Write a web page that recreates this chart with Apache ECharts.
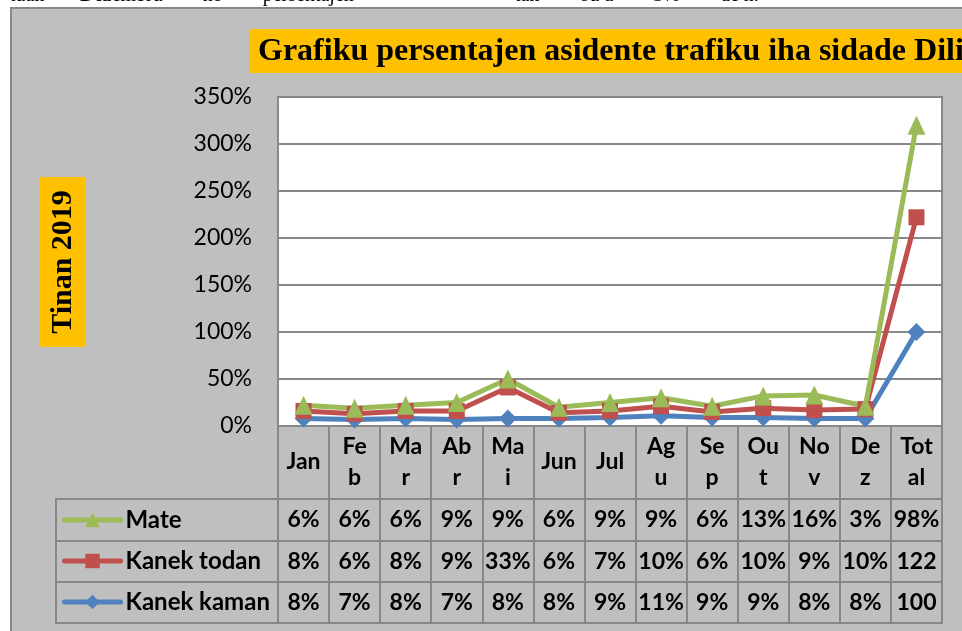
<!DOCTYPE html>
<html>
<head>
<meta charset="utf-8">
<script src="https://cdn.jsdelivr.net/npm/echarts@6/dist/echarts.min.js"></script>
<style>
  html, body { margin: 0; padding: 0; background: #fff; }
  #chart_container { width: 962px; height: 631px; }
</style>
</head>
<body>
<div id="chart_container"></div>
<script>
// months as they wrap in the excel data table
var months = ['Jan', 'Fe\nb', 'Ma\nr', 'Ab\nr', 'Ma\ni', 'Jun', 'Jul', 'Ag\nu', 'Se\np', 'Ou\nt', 'No\nv', 'De\nz', 'Tot\nal'];
var yTicks = [0, 50, 100, 150, 200, 250, 300, 350];

// percent values
var mate        = [6, 6, 6, 9, 9, 6, 9, 9, 6, 13, 16, 3, 98];
var kanekTodan  = [8, 6, 8, 9, 33, 6, 7, 10, 6, 10, 9, 10, 122];
var kanekKaman  = [8, 7, 8, 7, 8, 8, 9, 11, 9, 9, 8, 8, 100];

var BLUE = '#4F81BD', RED = '#C0504D', GREEN = '#9BBB59';
var GRID_GREY = '#888888';
var LABEL_FONT = 'Lato';

var dom = document.getElementById('chart_container');
var myChart = echarts.init(dom, null, {renderer: 'canvas'});

// the excel table cuts 3 digit values, so "122%" shows as "122"
function cellText(v) {
    v = Number(v);
    return v >= 100 ? String(v) : v + '%';
}

function tableRow(values, offset) {
    return {
        type: 'category',
        gridIndex: 0,
        position: 'bottom',
        offset: offset,
        data: values,
        axisLine: {show: true, lineStyle: {color: GRID_GREY, width: 2}},
        axisTick: {show: false},
        axisLabel: {
            interval: 0,
            margin: 21,
            verticalAlign: 'middle',
            color: '#000',
            fontFamily: LABEL_FONT,
            fontWeight: 'bold',
            fontSize: 23,
            formatter: cellText
        }
    };
}

var option = {
    animation: false,
    backgroundColor: '#fff',
    graphic: [
        // cut off line of document text above the chart
        {type: 'text', left: 10, top: -14, silent: true,
         style: {text: 'tuan       Dezembru        no        persentajen', font: '20px "Liberation Serif"', fill: '#000'}},
        {type: 'text', left: 515, top: -14, silent: true,
         style: {text: 'tan        ou a        3%        de n.', font: '20px "Liberation Serif"', fill: '#000'}},
        // chart area
        {type: 'rect', z: -10, silent: true,
         shape: {x: 11, y: 8, width: 1000, height: 700},
         style: {fill: '#BFBFBF', stroke: GRID_GREY, lineWidth: 2}},
        // title
        {type: 'rect', silent: true,
         shape: {x: 249, y: 29, width: 720, height: 44},
         style: {fill: '#FFC000'}},
        {type: 'text', x: 258, y: 52, silent: true,
         style: {text: 'Grafiku persentajen asidente trafiku iha sidade Dili',
                 font: 'bold 32px "Liberation Serif"', fill: '#000', verticalAlign: 'middle'}},
        // y axis title
        {type: 'rect', silent: true,
         shape: {x: 40, y: 177, width: 45, height: 170},
         style: {fill: '#FFC000'}},
        {type: 'text', x: 63, y: 262, rotation: Math.PI / 2, silent: true,
         style: {text: 'Tinan 2019', font: 'bold 30px "Liberation Serif"', fill: '#000',
                 align: 'center', verticalAlign: 'middle'}},
        // legend key cells of the data table
        {type: 'rect', silent: true,
         shape: {x: 56, y: 499, width: 222, height: 124},
         style: {fill: 'none', stroke: GRID_GREY, lineWidth: 2}},
        {type: 'line', silent: true, shape: {x1: 56, y1: 541, x2: 278, y2: 541},
         style: {stroke: GRID_GREY, lineWidth: 2}},
        {type: 'line', silent: true, shape: {x1: 56, y1: 582, x2: 278, y2: 582},
         style: {stroke: GRID_GREY, lineWidth: 2}}
    ],
    legend: {
        orient: 'vertical',
        left: 62,
        top: 507,
        padding: 0,
        itemWidth: 56,
        itemHeight: 18,
        itemGap: 15,
        data: ['Mate', 'Kanek todan', 'Kanek kaman'],
        lineStyle: {width: 5, cap: 'round'},
        textStyle: {color: '#000', fontFamily: LABEL_FONT, fontWeight: 'bold', fontSize: 24, lineHeight: 26}
    },
    grid: {
        left: 278,
        right: 20,
        top: 97,
        bottom: 205,
        show: true,
        backgroundColor: '#fff',
        borderColor: GRID_GREY,
        borderWidth: 2
    },
    xAxis: [
        {
            type: 'category',
            data: months,
            boundaryGap: true,
            axisLine: {show: true, lineStyle: {color: GRID_GREY, width: 2}},
            axisTick: {show: true, interval: 0, length: 197, lineStyle: {color: GRID_GREY, width: 2}},
            axisLabel: {
                interval: 0,
                margin: 36,
                verticalAlign: 'middle',
                lineHeight: 31,
                color: '#000',
                fontFamily: LABEL_FONT,
                fontWeight: 'bold',
                fontSize: 23
            }
        },
        tableRow(mate, 73),
        tableRow(kanekTodan, 115),
        tableRow(kanekKaman, 156),
        {
            type: 'category',
            position: 'bottom',
            offset: 197,
            data: months,
            axisLine: {show: true, lineStyle: {color: GRID_GREY, width: 2}},
            axisTick: {show: false},
            axisLabel: {show: false}
        }
    ],
    yAxis: {
        type: 'value',
        min: yTicks[0],
        max: yTicks[yTicks.length - 1],
        interval: 50,
        axisLine: {show: false},
        axisTick: {show: false},
        splitLine: {lineStyle: {color: GRID_GREY, width: 2}},
        axisLabel: {
            margin: 26,
            color: '#000',
            fontFamily: LABEL_FONT,
            fontSize: 23,
            formatter: '{value}%'
        }
    },
    series: [
        {
            name: 'Kanek kaman',
            type: 'line',
            stack: 'total',
            data: kanekKaman,
            symbol: 'diamond',
            symbolSize: 18,
            color: BLUE,
            lineStyle: {width: 5}
        },
        {
            name: 'Kanek todan',
            type: 'line',
            stack: 'total',
            data: kanekTodan,
            symbol: 'rect',
            symbolSize: 16,
            color: RED,
            lineStyle: {width: 5}
        },
        {
            name: 'Mate',
            type: 'line',
            stack: 'total',
            data: mate,
            symbol: 'triangle',
            symbolSize: [18, 19],
            color: GREEN,
            lineStyle: {width: 5}
        }
    ]
};

myChart.setOption(option, true);
</script>
</body>
</html>
